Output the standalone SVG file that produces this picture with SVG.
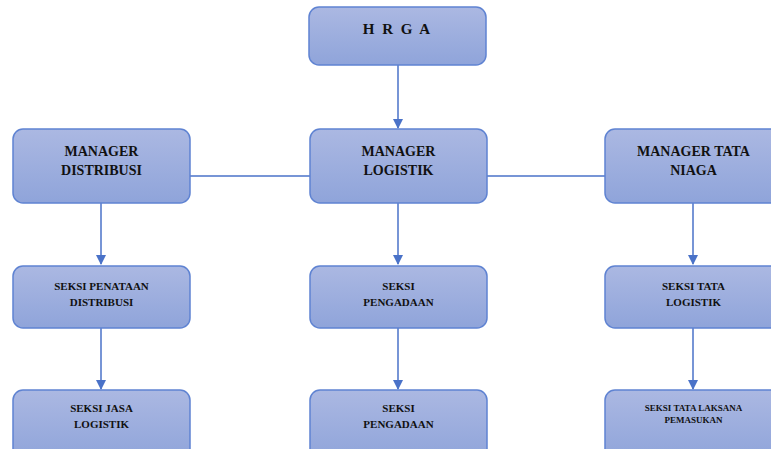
<svg xmlns="http://www.w3.org/2000/svg" width="771" height="449" viewBox="0 0 771 449">
<defs>
<linearGradient id="g" x1="0" y1="0" x2="0" y2="1">
<stop offset="0" stop-color="#abb8e2"/>
<stop offset="1" stop-color="#8fa4da"/>
</linearGradient>
<marker id="ah" viewBox="0 0 10 10" refX="9" refY="5" markerWidth="10" markerHeight="10" markerUnits="userSpaceOnUse" orient="auto">
<path d="M0,0 L10,5 L0,10 z" fill="#4a72c8"/>
</marker>
</defs>
<style>
.box{fill:url(#g);stroke:#5f83d2;stroke-width:1.5}
.t{font-family:"Liberation Serif","Times New Roman",serif;font-weight:bold;fill:#111;text-anchor:middle}
.l{font-size:14px}
.s{font-size:11px}
.xs{font-size:9px}
.c{stroke:#4a72c8;stroke-width:1.5;fill:none}
</style>
<g id="connectors">
<line class="c" x1="398" y1="65" x2="398" y2="128" marker-end="url(#ah)"/>
<line class="c" x1="190" y1="176" x2="310" y2="176"/>
<line class="c" x1="487" y1="176" x2="605" y2="176"/>
<line class="c" x1="101" y1="203" x2="101" y2="264" marker-end="url(#ah)"/>
<line class="c" x1="398" y1="203" x2="398" y2="264" marker-end="url(#ah)"/>
<line class="c" x1="693" y1="203" x2="693" y2="264" marker-end="url(#ah)"/>
<line class="c" x1="101" y1="328" x2="101" y2="389" marker-end="url(#ah)"/>
<line class="c" x1="398" y1="328" x2="398" y2="389" marker-end="url(#ah)"/>
<line class="c" x1="693" y1="328" x2="693" y2="389" marker-end="url(#ah)"/>
</g>
<g id="hrga">
<rect class="box" x="309" y="7" width="177" height="58" rx="10"/>
<text class="t" x="397.5" y="34" font-size="15" letter-spacing="2">H R G A</text>
</g>
<g id="manager-distribusi">
<rect class="box" x="13" y="129" width="177" height="74" rx="10"/>
<text class="t l" x="101.5" y="156">MANAGER</text>
<text class="t l" x="101.5" y="175">DISTRIBUSI</text>
</g>
<g id="manager-logistik">
<rect class="box" x="310" y="129" width="177" height="74" rx="10"/>
<text class="t l" x="398.5" y="156">MANAGER</text>
<text class="t l" x="398.5" y="175">LOGISTIK</text>
</g>
<g id="manager-tata-niaga">
<rect class="box" x="605" y="129" width="177" height="74" rx="10"/>
<text class="t l" x="693.5" y="156">MANAGER TATA</text>
<text class="t l" x="693.5" y="175">NIAGA</text>
</g>
<g id="seksi-penataan">
<rect class="box" x="13" y="266" width="177" height="62" rx="10"/>
<text class="t s" x="101.5" y="290">SEKSI PENATAAN</text>
<text class="t s" x="101.5" y="306">DISTRIBUSI</text>
</g>
<g id="seksi-pengadaan-1">
<rect class="box" x="310" y="266" width="177" height="62" rx="10"/>
<text class="t s" x="398.5" y="290">SEKSI</text>
<text class="t s" x="398.5" y="306">PENGADAAN</text>
</g>
<g id="seksi-tata-logistik">
<rect class="box" x="605" y="266" width="177" height="62" rx="10"/>
<text class="t s" x="693.5" y="290">SEKSI TATA</text>
<text class="t s" x="693.5" y="306">LOGISTIK</text>
</g>
<g id="seksi-jasa-logistik">
<rect class="box" x="13" y="390" width="177" height="70" rx="10"/>
<text class="t s" x="101.5" y="412">SEKSI JASA</text>
<text class="t s" x="101.5" y="428">LOGISTIK</text>
</g>
<g id="seksi-pengadaan-2">
<rect class="box" x="310" y="390" width="177" height="70" rx="10"/>
<text class="t s" x="398.5" y="412">SEKSI</text>
<text class="t s" x="398.5" y="428">PENGADAAN</text>
</g>
<g id="seksi-tata-laksana">
<rect class="box" x="605" y="390" width="177" height="70" rx="10"/>
<text class="t xs" x="693.5" y="411">SEKSI TATA LAKSANA</text>
<text class="t xs" x="693.5" y="423">PEMASUKAN</text>
</g>
</svg>
